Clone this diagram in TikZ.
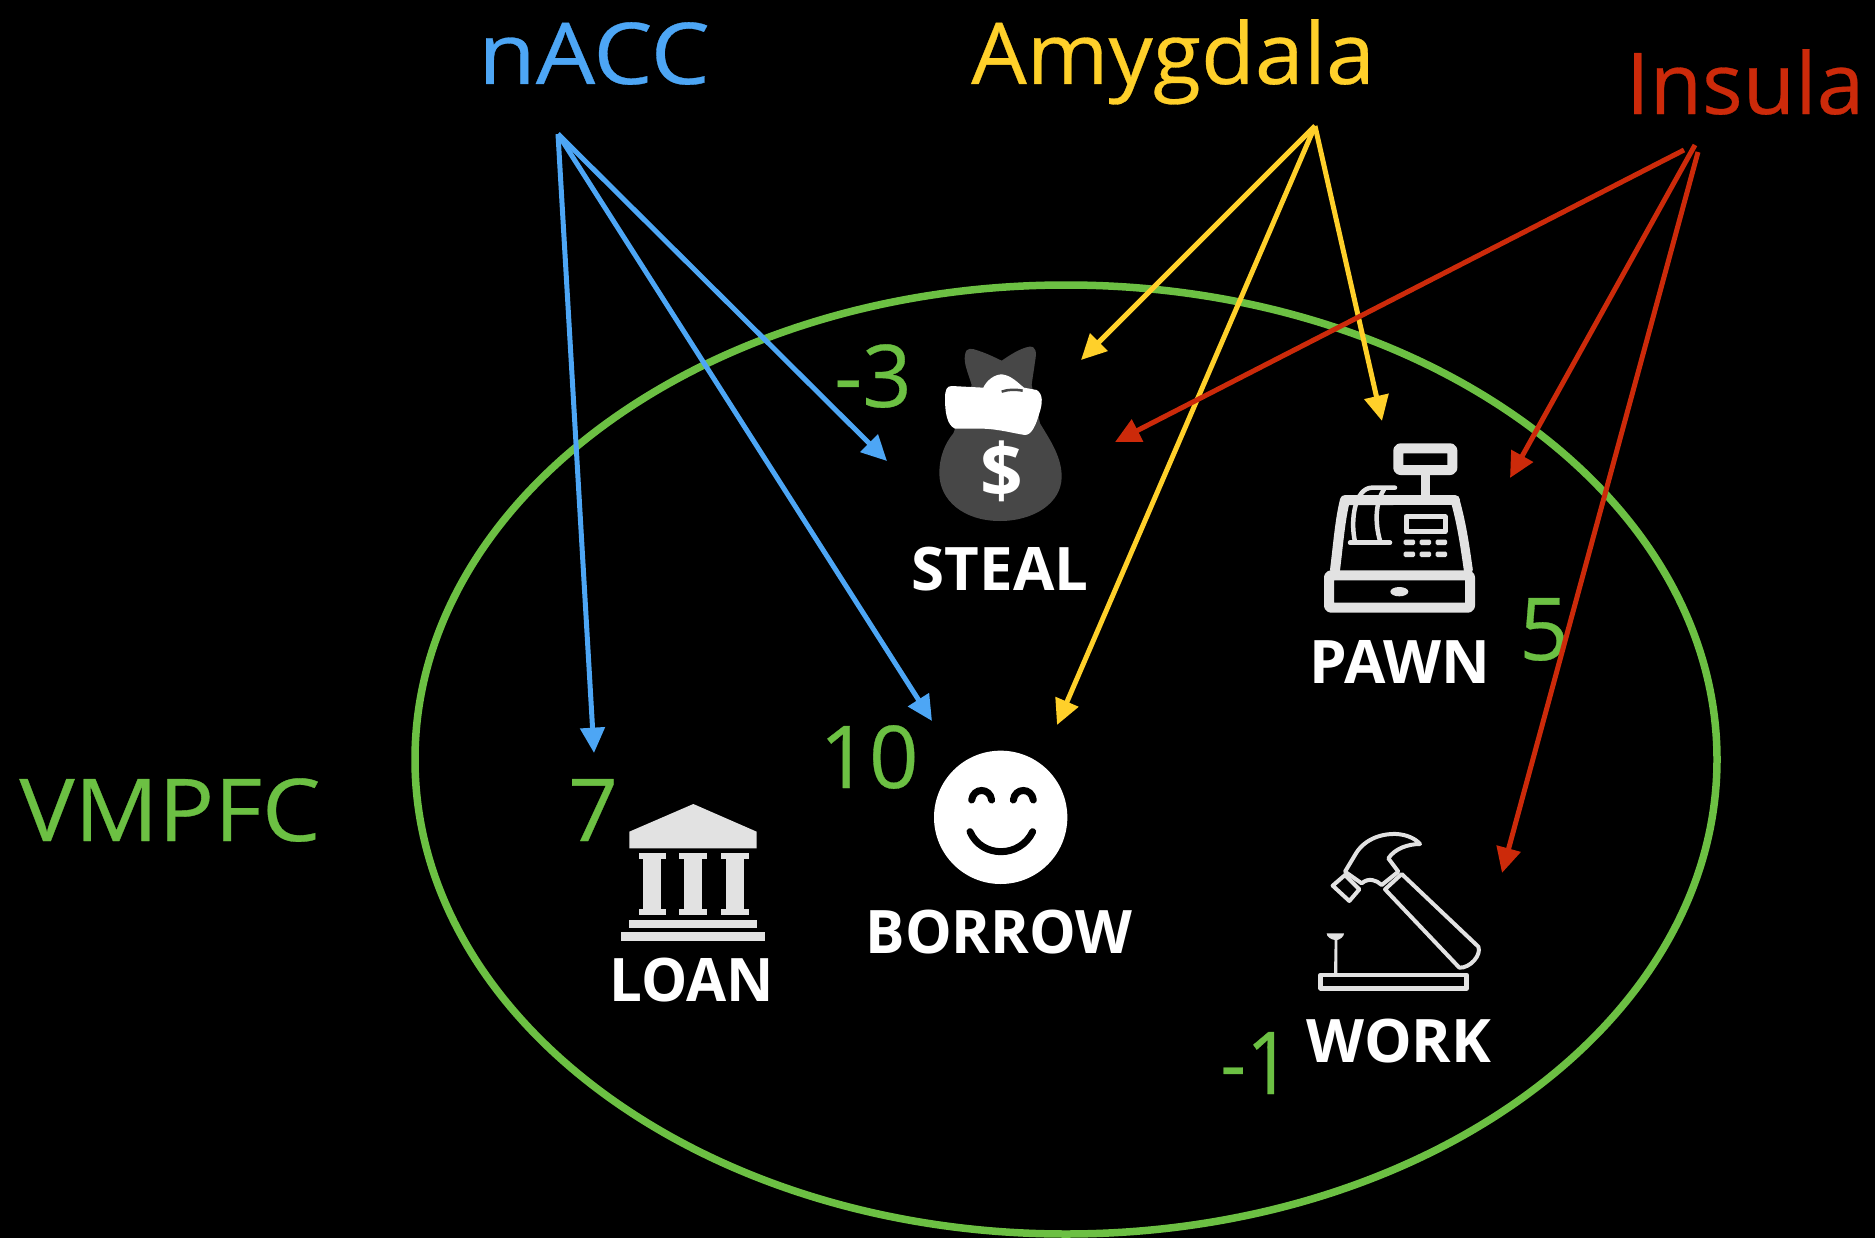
\documentclass[tikz,border=0pt]{standalone}
\usepackage{fontspec}
\setmainfont{Open Sans}
\newfontfamily\heavyfont[FakeBold=0.35]{Open Sans}
\usetikzlibrary{arrows.meta}
\definecolor{cblue}{HTML}{4DA6F5}
\definecolor{cyellow}{HTML}{FFD02A}
\definecolor{cred}{HTML}{CC2A0A}
\definecolor{cgreen}{HTML}{6CC043}
\definecolor{cicon}{HTML}{E2E2E2}
\definecolor{cbag}{HTML}{474747}
\tikzset{
  px/.style={line width=#1*0.75pt},
  region/.style={anchor=base,inner sep=0pt,font=\heavyfont\fontsize{64}{70}\selectfont},
  value/.style={anchor=base,inner sep=0pt,text=cgreen,font=\heavyfont\fontsize{65}{70}\selectfont},
  action/.style={anchor=base,inner sep=0pt,text=white,font=\fontsize{45}{50}\selectfont\bfseries},
  link/.style={px=5,-{Triangle[length=19pt,width=18pt]}},
  iconline/.style={draw=cicon,line join=round,line cap=round},
  zoomed/.style={shift={(#1)},x=0.25pt,y=-0.25pt}
}
\begin{document}
\begin{tikzpicture}[x=0.75pt,y=-0.75pt]
\fill[black] (0,0) rectangle (1875,1238);
\useasboundingbox (0,0) rectangle (1875,1238);

% VMPFC ellipse
\draw[cgreen,px=7.5] (1066,759.5) ellipse [x radius=651,y radius=474.5];

% labels
\node[region,text=cblue,xscale=1.10] (nacc) at (594,84) {nACC};
\node[region,text=cyellow,xscale=1.03] (amyg) at (1173,84) {Amygdala};
\node[region,text=cred] (insula) at (1745,114) {Insula};
\node[value,xscale=1.07] (vmpfc) at (170,841) {VMPFC};

\node[value] (vsteal) at (873,407) {-3};
\node[value] (vpawn) at (1544,660) {5};
\node[value] (vborrow) at (869,788) {10};
\node[value] (vloan) at (593,841) {7};
\node[value,xscale=.92] (vwork) at (1256,1094) {-1};

\node[action] (steal) at (1000,590) {STEAL};
\node[action] (pawn) at (1400,683) {PAWN};
\node[action,xscale=.98] (borrow) at (999,953) {BORROW};
\node[action,xscale=.97] (loan) at (692,1001) {LOAN};
\node[action] (work) at (1399,1062) {WORK};

% money bag
\begin{scope}[zoomed={900,320}]
\fill[cbag] (215,195) .. controls (205,160) and (190,130) .. (195,105)
  .. controls (198,80) and (215,85) .. (235,92)
  .. controls (265,102) and (290,115) .. (305,122)
  .. controls (330,105) and (360,85) .. (388,80)
  .. controls (410,78) and (410,100) .. (405,125)
  .. controls (402,150) and (398,170) .. (395,195)
  -- (420,310)
  .. controls (450,360) and (485,410) .. (485,470)
  .. controls (485,550) and (400,603) .. (300,603)
  .. controls (190,603) and (118,540) .. (118,460)
  .. controls (118,410) and (135,370) .. (160,340) -- cycle;
\fill[white] (135,235) .. controls (135,210) and (140,198) .. (155,198)
  -- (250,203) .. controls (260,180) and (285,163) .. (305,163)
  .. controls (335,166) and (355,190) .. (372,203)
  -- (410,210) .. controls (430,222) and (428,250) .. (418,280)
  .. controls (408,315) and (395,345) .. (375,345)
  .. controls (340,340) and (300,328) .. (250,326)
  -- (165,326) .. controls (140,315) and (135,275) .. (135,235) -- cycle;
\draw[cbag,px=2.5] (305,215) .. controls (325,208) and (345,208) .. (368,212);
\node[inner sep=0pt,text=white,font=\fontsize{56}{60}\selectfont\bfseries] (dollar) at (305,455) {\$};
\end{scope}

% cash register
\begin{scope}[zoomed={1300,420}]
\draw[iconline,px=10,rounded corners=1.5pt] (295,85) rectangle (457,150);
\draw[iconline,px=9] (375,165) -- (375,230);
\draw[iconline,px=10] (105,450) .. controls (115,370) and (120,300) .. (135,240) -- (280,240);
\draw[iconline,px=10] (280,240) -- (465,240);
\draw[iconline,px=9] (465,240) .. controls (485,310) and (495,380) .. (505,450);
\draw[iconline,px=10,rounded corners=1.5pt] (87,466) rectangle (510,563);
\fill[cicon] (298,515) ellipse [x radius=27,y radius=14];
\draw[iconline,px=4.5] (150,368) -- (270,368);
\draw[iconline,px=4.5] (165,365) .. controls (150,300) and (165,205) .. (215,203) -- (285,203);
\draw[iconline,px=4.5] (240,362) .. controls (225,310) and (225,250) .. (252,208);
\draw[iconline,px=5] (318,290) rectangle (435,335);
\foreach \yy in {367,403}{\foreach \xx in {328,376,424}{
  \fill[cicon,rounded corners=1pt] (\xx-17,\yy-8) rectangle (\xx+17,\yy+8);
}}
\end{scope}

% bank
\begin{scope}[zoomed={600,780}]
\fill[cicon] (280,72) -- (470,155) -- (470,205) -- (88,205) -- (88,155) -- cycle;
\foreach \xx in {157,279,405}{
  \fill[cicon] (\xx-27,218) rectangle (\xx+27,406);
  \fill[cicon] (\xx-41,218) rectangle (\xx+41,238);
  \fill[cicon] (\xx-41,388) rectangle (\xx+41,406);
}
\fill[cicon] (88,420) rectangle (470,443);
\fill[cicon] (62,456) rectangle (495,484);
\end{scope}

% hammer and nail
\begin{scope}[zoomed={1300,820}]
\draw[iconline,px=4] (135,155) -- (165,105) .. controls (190,60) and (240,40) .. (290,42)
  .. controls (320,44) and (345,55) .. (360,72)
  .. controls (325,72) and (285,85) .. (265,115)
  -- (295,155) -- (245,195) .. controls (230,180) and (205,172) .. (185,190) -- cycle;
\draw[iconline,px=4] (135,165) -- (178,208) -- (148,243) -- (98,197) -- cycle;
\draw[iconline,px=4] (305,162) -- (535,380) .. controls (545,405) and (510,445) .. (478,443)
  -- (255,208) -- cycle;
\fill[cicon] (80,340) -- (132,340) .. controls (132,350) and (120,358) .. (112,360)
  -- (112,460) -- (102,460) -- (104,360) .. controls (92,358) and (80,350) .. (80,340) -- cycle;
\draw[iconline,px=4.5] (62,465) rectangle (500,505);
\end{scope}

% smiley
\begin{scope}[zoomed={910,730}]
\fill[white] (272,262) circle [radius=200];
\draw[black,px=7,line cap=round] (185,210) .. controls (190,172) and (240,172) .. (245,210);
\draw[black,px=7,line cap=round] (310,210) .. controls (315,172) and (365,172) .. (370,210);
\draw[black,px=7,line cap=round] (180,305) .. controls (215,385) and (330,385) .. (368,305);
\end{scope}

% connector ends
\coordinate (n0) at (558,134);
\coordinate (a0) at (1315,126);
\coordinate (i1) at (1684,150);
\coordinate (i2) at (1695,145);
\coordinate (i3) at (1698,152);
\coordinate (tNL) at (594,753);
\coordinate (tNS) at (887,461);
\coordinate (tNB) at (932,721);
\coordinate (tAS) at (1081,360);
\coordinate (tAP) at (1382,421);
\coordinate (tAB) at (1057,725);
\coordinate (tIS) at (1115,442);
\coordinate (tIP) at (1510,478);
\coordinate (tIW) at (1502,873);

\draw[link,cblue] (n0) -- (tNL);
\draw[link,cblue] (n0) -- (tNS);
\draw[link,cblue] (n0) -- (tNB);
\draw[link,cyellow] (a0) -- (tAS);
\draw[link,cyellow] (a0) -- (tAP);
\draw[link,cyellow] (a0) -- (tAB);
\draw[link,cred] (i1) -- (tIS);
\draw[link,cred] (i2) -- (tIP);
\draw[link,cred] (i3) -- (tIW);
\end{tikzpicture}
\end{document}
